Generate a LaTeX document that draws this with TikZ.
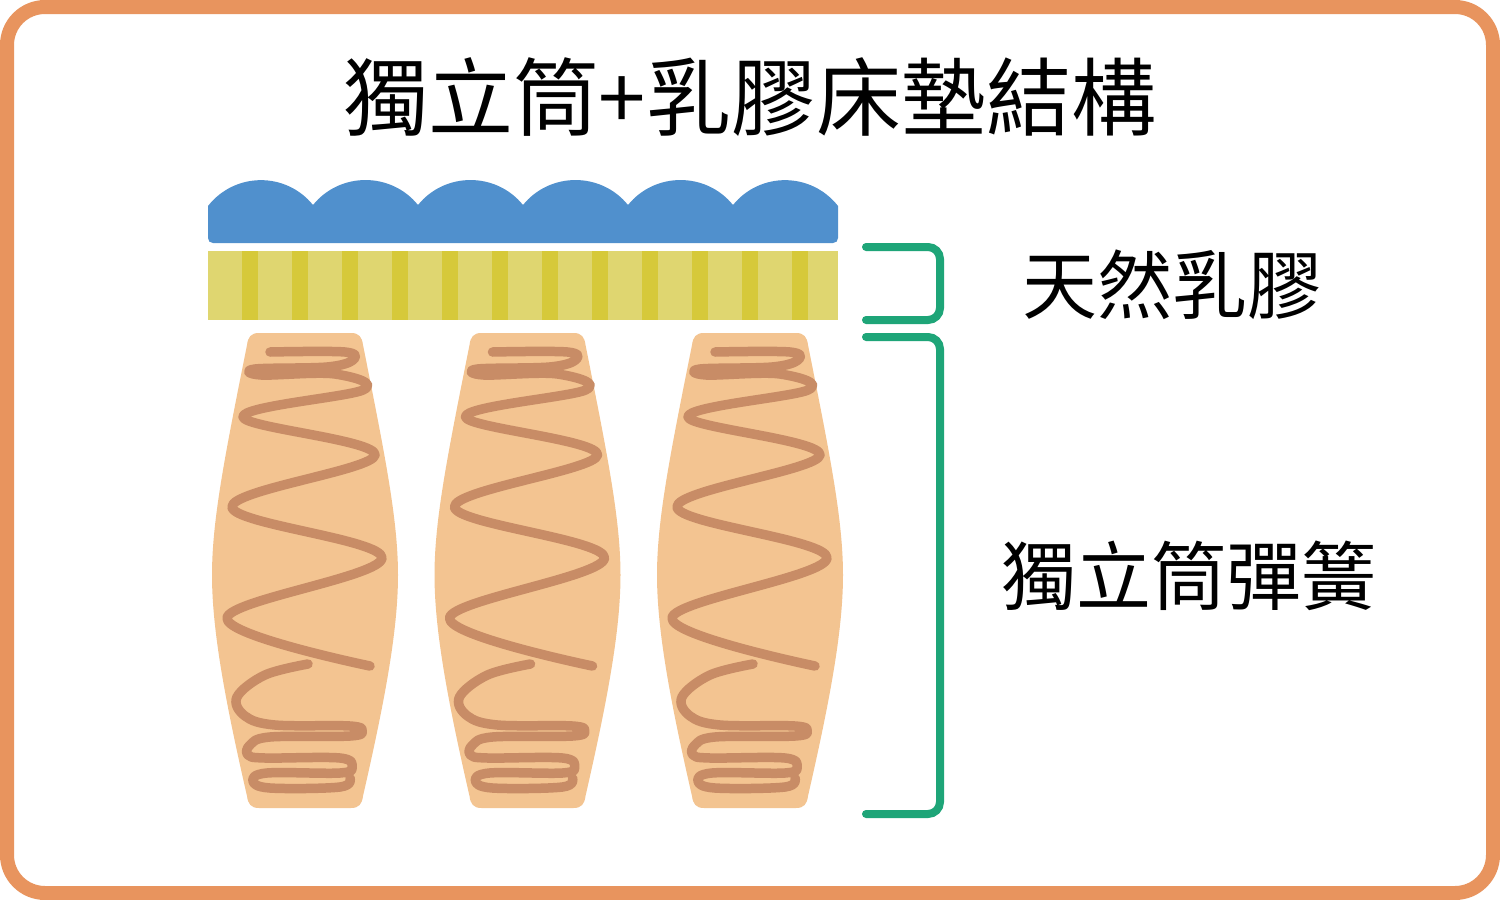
\documentclass[tikz,border=0pt]{standalone}
\usepackage{fontspec}
\newfontfamily\cjk{Noto Sans CJK TC}
\definecolor{framec}{RGB}{232,148,94}
\definecolor{bluec}{RGB}{80,144,205}
\definecolor{yellowc}{RGB}{223,214,112}
\definecolor{stripec}{RGB}{214,201,58}
\definecolor{pocketc}{RGB}{243,196,145}
\definecolor{springc}{RGB}{200,140,102}
\definecolor{greenc}{RGB}{30,165,120}
\tikzset{
  titletext/.style={font=\cjk\fontsize{85}{85}\selectfont, inner sep=0pt},
  labeltext/.style={font=\cjk\fontsize{75}{75}\selectfont, inner sep=0pt},
  bracketline/.style={draw=greenc, line width=8pt, line cap=round, rounded corners=12pt},
  springline/.style={draw=springc, line width=9.5pt, line cap=round, line join=round},
}
\begin{document}
\begin{tikzpicture}[x=1pt,y=-1pt]
\useasboundingbox (0,0) rectangle (1500,900);
\fill[white] (0,0) rectangle (1500,900);
\draw[framec, line width=14pt, rounded corners=38pt] (7,7) rectangle (1493,893);

% title
\node[titletext] (title) at (750,97) {獨立筒+乳膠床墊結構};

% blue comfort layer
\fill[bluec] (213,243) .. controls (210,243) and (208,241) .. (208,238) -- (208,206)
  .. controls (235,171.7) and (286,171.7) .. (313,205)
  .. controls (340,171.7) and (391,171.7) .. (418,205)
  .. controls (445,171.7) and (496,171.7) .. (523,205)
  .. controls (550,171.7) and (601,171.7) .. (628,205)
  .. controls (655,171.7) and (706,171.7) .. (733,205)
  .. controls (760,171.7) and (811,171.7) .. (838,206)
  -- (838,238) .. controls (838,241) and (836,243) .. (833,243) -- cycle;

% latex layer
\fill[yellowc] (208,251) rectangle (838,320);
\foreach \k in {0,...,11} {
  \fill[stripec] ({242+50*\k},251) rectangle ({258+50*\k},320);
}

% pockets with springs
\foreach \cx in {305,527.5,750} {
  \begin{scope}[shift={(\cx,0)}]
    \fill[pocketc] (-46,333) -- (46,333)
      .. controls (54,333) and (57,337) .. (58,345)
      .. controls (80,455) and (93,520) .. (93,575)
      .. controls (93,630) and (80,700) .. (58,796)
      .. controls (57,804) and (54,808) .. (46,808)
      -- (-46,808)
      .. controls (-54,808) and (-57,804) .. (-58,796)
      .. controls (-80,700) and (-93,630) .. (-93,575)
      .. controls (-93,520) and (-80,455) .. (-58,345)
      .. controls (-57,337) and (-54,333) .. (-46,333) -- cycle;
    \draw[springline] plot[smooth, tension=0.6] coordinates {
      (-35,352) (40,352) (48,360) (22,367) (-50,369) (-44,375) (30,374)
      (58,390) (-62,417) (70,455) (-73,507) (77,558) (-78,618) (65,666)};
    \draw[springline] plot[smooth, tension=0.6] coordinates {
      (3,664) (-40,675) (-68,697) (-60,716) (-30,725) (45,726) (57,731)
      (45,736) (-35,737) (-55,745) (-57,755) (-40,758) (35,758) (47,767)
      (35,773) (-38,773) (-52,781) (-35,788) (35,787) (45,778)};
  \end{scope}
}

% brackets
\coordinate (b1a) at (866,247);
\coordinate (b1b) at (866,320);
\coordinate (b2a) at (866,337);
\coordinate (b2b) at (866,814);
\draw[bracketline] (b1a) -- (940,247) -- (940,320) -- (b1b);
\draw[bracketline] (b2a) -- (940,337) -- (940,814) -- (b2b);

% labels
\node[labeltext] (latexlbl) at (1172,285) {天然乳膠};
\node[labeltext] (springlbl) at (1189,576) {獨立筒彈簧};
\end{tikzpicture}
\end{document}
